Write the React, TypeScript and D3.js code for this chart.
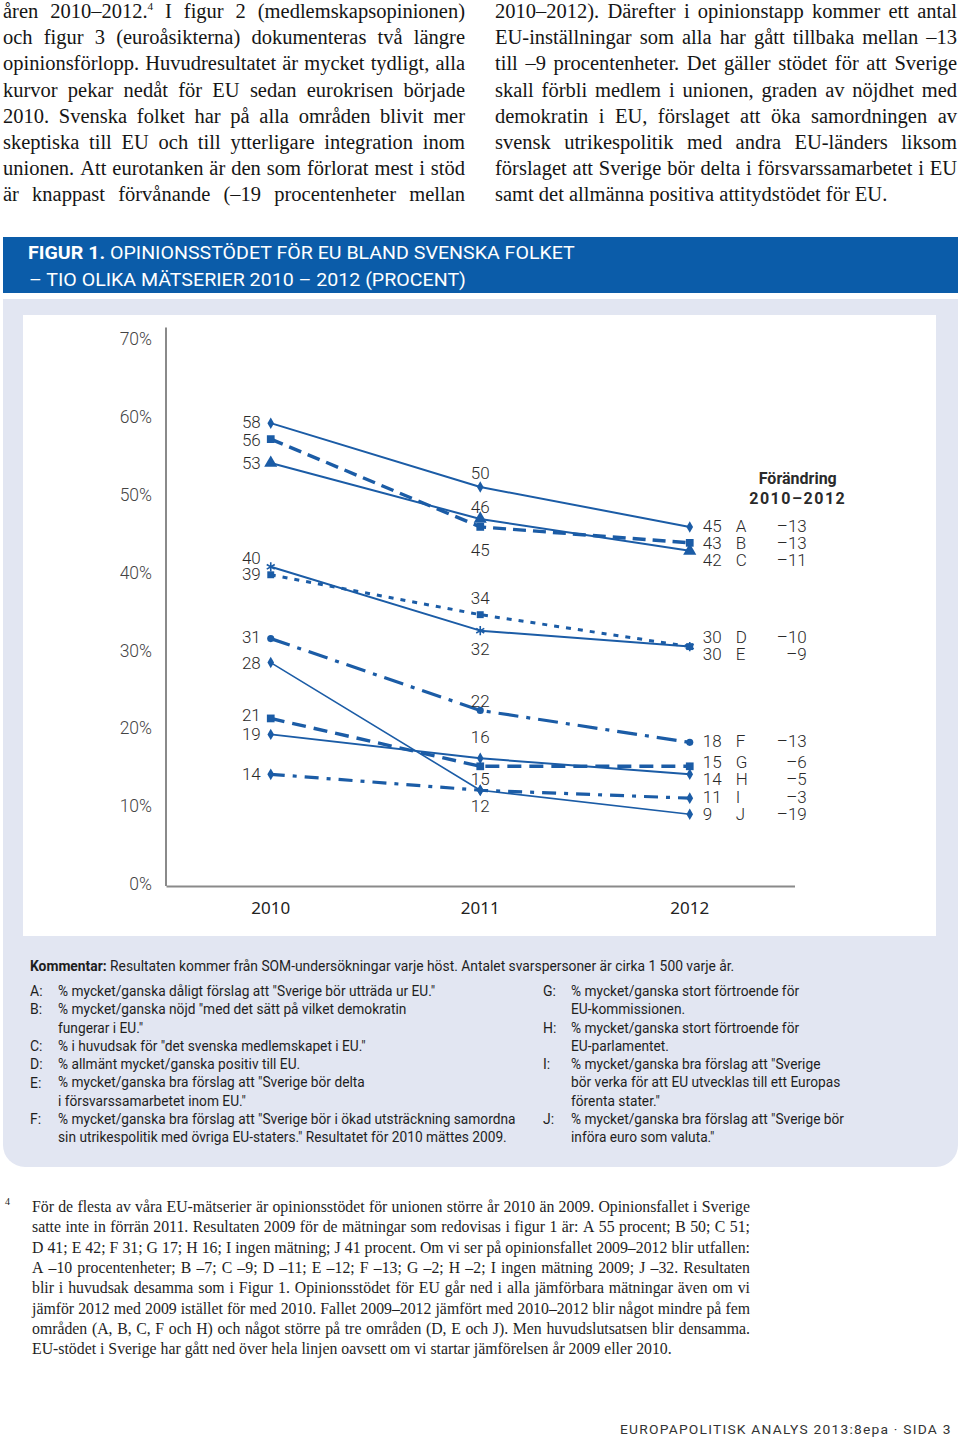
import React, { useEffect, useRef } from 'react';
import * as d3 from 'd3';

// ---------- DATA ----------
const years = ['2010', '2011', '2012'];
const seriesKeys = ['A', 'B', 'C', 'D', 'E', 'F', 'G', 'H', 'I', 'J'];
const valuesA = [58, 50, 45];
const valuesB = [56, 45, 43];
const valuesC = [53, 46, 42];
const valuesD = [40, 32, 30];
const valuesE = [39, 34, 30];
const valuesF = [31, 22, 18];
const valuesG = [21, 15, 15];
const valuesH = [19, 16, 14];
const valuesI = [14, 12, 11];
const valuesJ = [28, 12, 9];
const yTickValues = [0, 10, 20, 30, 40, 50, 60, 70];
const changeTitle = ['Förändring', '2010–2012'];

const seriesValues: Record<string, number[]> = {
  A: valuesA, B: valuesB, C: valuesC, D: valuesD, E: valuesE,
  F: valuesF, G: valuesG, H: valuesH, I: valuesI, J: valuesJ,
};

// ---------- STYLE / LAYOUT ----------
const BLUE = '#1b5ca6';
type St = { dash: string | null; width: number; marker: string; msize: number };
const styles: Record<string, St> = {
  A: { dash: null, width: 2, marker: 'diamond', msize: 38 },
  B: { dash: '13,7', width: 3.4, marker: 'square', msize: 60 },
  C: { dash: null, width: 2, marker: 'triangle', msize: 75 },
  D: { dash: null, width: 2, marker: 'asterisk', msize: 60 },
  E: { dash: '5,7', width: 3, marker: 'square', msize: 48 },
  F: { dash: '20,8,4,8', width: 3.2, marker: 'circle', msize: 40 },
  G: { dash: '14,8', width: 3.4, marker: 'square', msize: 60 },
  H: { dash: null, width: 2, marker: 'diamond', msize: 38 },
  I: { dash: '14,8,4,8', width: 3.2, marker: 'diamond', msize: 40 },
  J: { dash: null, width: 1.6, marker: 'diamond', msize: 38 },
};
// label vertical offsets from marker (px), null = no label
const labelDy2010: Record<string, number | null> = { A: -1, B: 1, C: 0, D: -9, E: -1, F: -2, G: -4, H: -1, I: 0, J: 0 };
const labelDy2011: Record<string, number | null> = { A: -14, B: 23, C: -12, D: 18, E: -17, F: -10, G: 13, H: -21, I: null, J: 16 };
const labelDy2012: Record<string, number | null> = { A: -1, B: 0, C: 9, D: -10, E: 7, F: -1, G: -4, H: 5, I: -1, J: 0 };

const bodyLeft = [
  'åren 2010–2012.^4 I figur 2 (medlemskapsopinionen)',
  'och figur 3 (euroåsikterna) dokumenteras två längre',
  'opinionsförlopp. Huvudresultatet är mycket tydligt, alla',
  'kurvor pekar nedåt för EU sedan eurokrisen började',
  '2010. Svenska folket har på alla områden blivit mer',
  'skeptiska till EU och till ytterligare integration inom',
  'unionen. Att eurotanken är den som förlorat mest i stöd',
  'är knappast förvånande (–19 procentenheter mellan',
];
const bodyRight = [
  '2010–2012). Därefter i opinionstapp kommer ett antal',
  'EU-inställningar som alla har gått tillbaka mellan –13',
  'till –9 procentenheter. Det gäller stödet för att Sverige',
  'skall förbli medlem i unionen, graden av nöjdhet med',
  'demokratin i EU, förslaget att öka samordningen av',
  'svensk utrikespolitik med andra EU-länders liksom',
  'förslaget att Sverige bör delta i försvarssamarbetet i EU',
  'samt det allmänna positiva attitydstödet för EU.',
];
const footnote = [
  'För de flesta av våra EU-mätserier är opinionsstödet för unionen större år 2010 än 2009. Opinionsfallet i Sverige',
  'satte inte in förrän 2011. Resultaten 2009 för de mätningar som redovisas i figur 1 är: A 55 procent; B 50; C 51;',
  'D 41; E 42; F 31; G 17; H 16; I ingen mätning; J 41 procent. Om vi ser på opinionsfallet 2009–2012 blir utfallen:',
  'A –10 procentenheter; B –7; C –9; D –11; E –12; F –13; G –2; H –2; I ingen mätning 2009; J –32. Resultaten',
  'blir i huvudsak desamma som i Figur 1. Opinionsstödet för EU går ned i alla jämförbara mätningar även om vi',
  'jämför 2012 med 2009 istället för med 2010. Fallet 2009–2012 jämfört med 2010–2012 blir något mindre på fem',
  'områden (A, B, C, F och H) och något större på tre områden (D, E och J). Men huvudslutsatsen blir densamma.',
  'EU-stödet i Sverige har gått ned över hela linjen oavsett om vi startar jämförelsen år 2009 eller 2010.',
];
const commentLeft: [string, string][] = [
  ['A:', '% mycket/ganska dåligt förslag att "Sverige bör utträda ur EU."'],
  ['B:', '% mycket/ganska nöjd "med det sätt på vilket demokratin'],
  ['', 'fungerar i EU."'],
  ['C:', '% i huvudsak för "det svenska medlemskapet i EU."'],
  ['D:', '% allmänt mycket/ganska positiv till EU.'],
  ['E:', '% mycket/ganska bra förslag att "Sverige bör delta'],
  ['', 'i försvarssamarbetet inom EU."'],
  ['F:', '% mycket/ganska bra förslag att "Sverige bör i ökad utsträckning samordna'],
  ['', 'sin utrikespolitik med övriga EU-staters." Resultatet för 2010 mättes 2009.'],
];
const commentRight: [string, string][] = [
  ['G:', '% mycket/ganska stort förtroende för'],
  ['', 'EU-kommissionen.'],
  ['H:', '% mycket/ganska stort förtroende för'],
  ['', 'EU-parlamentet.'],
  ['I:', '% mycket/ganska bra förslag att "Sverige'],
  ['', 'bör verka för att EU utvecklas till ett Europas'],
  ['', 'förenta stater."'],
  ['J:', '% mycket/ganska bra förslag att "Sverige bör'],
  ['', 'införa euro som valuta."'],
];

const SERIF = '"Liberation Serif", "Times New Roman", serif';
const SANS = 'Roboto, "Noto Sans", sans-serif';

function drawJustified(parent: any, lines: string[], o: { x: number; width: number; y0: number; lh: number; size: number; fill: string; lastJustify: boolean }) {
  lines.forEach((line, i) => {
    const y = o.y0 + i * o.lh;
    const justify = i < lines.length - 1 || o.lastJustify;
    const words = line.split(' ');
    const g = parent.append('g');
    const nodes = words.map((w) => {
      const t = g.append('text').attr('y', y).attr('font-family', SERIF).attr('font-size', o.size).attr('fill', o.fill);
      const m = w.match(/^(.*)\^(\w+)$/);
      if (m) {
        t.append('tspan').text(m[1]);
        t.append('tspan').attr('font-size', o.size * 0.55).attr('dy', -o.size * 0.4).text(m[2]);
      } else t.text(w);
      return t;
    });
    const widths = nodes.map((n: any) => n.node().getComputedTextLength());
    const sum = d3.sum(widths);
    const spaceW = o.size * 0.25;
    let gap = justify && words.length > 1 ? (o.width - sum) / (words.length - 1) : spaceW;
    let sx = 1;
    if (gap < spaceW * 0.6) {
      gap = spaceW * 0.6;
      sx = o.width / (sum + gap * (words.length - 1));
    }
    let cx = 0;
    nodes.forEach((n: any, k: number) => { n.attr('x', cx); cx += widths[k] + gap; });
    g.attr('transform', `translate(${o.x},0) scale(${sx},1)`);
  });
}

function fitGroup(g: any, x: number, target: number | null, factor?: number) {
  const w = g.node().getBBox().width;
  const f = target != null ? target / w : (factor ?? 1);
  g.attr('transform', `translate(${x},0) scale(${f},1)`);
  return f;
}

export default function App() {
  const ref = useRef<SVGSVGElement | null>(null);

  useEffect(() => {
    const svg = d3.select(ref.current);
    svg.selectAll('*').remove();

    // ---- body text ----
    const body = svg.append('g');
    drawJustified(body, bodyLeft, { x: 3, width: 462, y0: 18, lh: 26.2, size: 20.5, fill: '#151515', lastJustify: true });
    drawJustified(body, bodyRight, { x: 495, width: 462, y0: 18, lh: 26.2, size: 20.5, fill: '#151515', lastJustify: false });

    // ---- figure frame ----
    svg.append('rect').attr('x', 3).attr('y', 237).attr('width', 955).attr('height', 56).attr('fill', '#0b5ca9');
    svg.append('path')
      .attr('d', 'M3,299 H958 V1145 A22,22 0 0 1 936,1167 H25 A22,22 0 0 1 3,1145 Z')
      .attr('fill', '#e2e6f2');
    svg.append('rect').attr('x', 23).attr('y', 315).attr('width', 913).attr('height', 621).attr('fill', '#ffffff');

    // banner text
    const b1 = svg.append('g');
    const b1t = b1.append('text').attr('y', 259).attr('font-family', SANS).attr('font-size', 19).attr('fill', '#fff');
    b1t.append('tspan').attr('font-weight', 700).text('FIGUR 1.');
    b1t.append('tspan').attr('font-weight', 400).text(' OPINIONSSTÖDET FÖR EU BLAND SVENSKA FOLKET');
    const bf = fitGroup(b1, 28, 547);
    const b2 = svg.append('g');
    b2.append('text').attr('y', 286).attr('font-family', SANS).attr('font-size', 19).attr('fill', '#fff')
      .text('– TIO OLIKA MÄTSERIER 2010 – 2012 (PROCENT)');
    fitGroup(b2, 29, null, bf);

    // ---- chart ----
    const chart = svg.append('g');
    const x = d3.scaleBand<string>().domain(years).range([166, 794.5]);
    const cx = (yr: string) => (x(yr) as number) + x.bandwidth() / 2;
    const yData = d3.scaleLinear().domain([0, 70]).range([886, 886 - 70 * 7.98]);
    const yLab = d3.scaleLinear().domain([0, 70]).range([884, 339]);

    // y axis labels
    const ya = chart.append('g').attr('transform', 'translate(166,0)')
      .call(d3.axisLeft(yLab).tickValues(yTickValues).tickSize(0).tickPadding(14).tickFormat((d: any) => `${d}%`));
    ya.select('.domain').remove();
    ya.selectAll('text').attr('font-family', SANS).attr('font-size', 17.5).attr('font-weight', 300).attr('fill', '#444');
    ya.attr('font-family', null).attr('font-size', null);
    chart.append('line').attr('x1', 166).attr('x2', 166).attr('y1', yData(70)).attr('y2', 886)
      .attr('stroke', '#8a8a8a').attr('stroke-width', 2);

    // x axis
    const xa = chart.append('g').attr('transform', 'translate(0,886)')
      .call(d3.axisBottom(x).tickSize(0).tickSizeOuter(0).tickPadding(16));
    xa.select('.domain').attr('stroke', '#8a8a8a').attr('stroke-width', 2);
    xa.selectAll('text').attr('font-family', '"Noto Sans", "Open Sans", sans-serif').attr('font-size', 17).attr('fill', '#222');

    const line = d3.line<number>().x((_, i) => cx(years[i])).y((v) => yData(v));
    const symbolFor = (m: string) => {
      switch (m) {
        case 'square': return d3.symbolSquare;
        case 'triangle': return d3.symbolTriangle;
        case 'circle': return d3.symbolCircle;
        case 'asterisk': return d3.symbolAsterisk;
        default: return d3.symbolDiamond;
      }
    };

    seriesKeys.forEach((k) => {
      const st = styles[k];
      chart.append('path').attr('d', line(seriesValues[k]) as string).attr('fill', 'none')
        .attr('stroke', BLUE).attr('stroke-width', st.width)
        .attr('stroke-dasharray', st.dash)
        .attr('stroke-linecap', 'butt').attr('stroke-linejoin', 'round');
    });
    seriesKeys.forEach((k) => {
      const st = styles[k];
      seriesValues[k].forEach((v, i) => {
        const p = chart.append('path')
          .attr('transform', `translate(${cx(years[i])},${yData(v)})`)
          .attr('d', d3.symbol().type(symbolFor(st.marker)).size(st.msize)() as string);
        if (st.marker === 'asterisk') p.attr('fill', 'none').attr('stroke', BLUE).attr('stroke-width', 1.6);
        else p.attr('fill', BLUE);
      });
    });

    // labels
    const labelFont = (t: any) => t.attr('font-family', SANS).attr('font-size', 17).attr('font-weight', 300).attr('fill', '#2a2a2a').attr('dy', '0.36em');
    seriesKeys.forEach((k) => {
      const vals = seriesValues[k];
      const d0 = labelDy2010[k];
      if (d0 != null) labelFont(chart.append('text').attr('x', cx(years[0]) - 10).attr('y', yData(vals[0]) + d0).attr('text-anchor', 'end').text(vals[0]));
      const d1 = labelDy2011[k];
      if (d1 != null) labelFont(chart.append('text').attr('x', cx(years[1])).attr('y', yData(vals[1]) + d1).attr('text-anchor', 'middle').text(vals[1]));
      const d2 = labelDy2012[k];
      if (d2 != null) {
        const yy = yData(vals[2]) + d2;
        labelFont(chart.append('text').attr('x', cx(years[2]) + 13).attr('y', yy).text(vals[2]));
        labelFont(chart.append('text').attr('x', cx(years[2]) + 46).attr('y', yy).text(k));
        const ch = vals[2] - vals[0];
        labelFont(chart.append('text').attr('x', cx(years[2]) + 117).attr('y', yy).attr('text-anchor', 'end')
          .text((ch < 0 ? '–' : '+') + Math.abs(ch)));
      }
    });
    chart.append('text').attr('x', cx(years[2]) + 108).attr('y', 478).attr('dy', '0.36em').attr('text-anchor', 'middle')
      .attr('font-family', SANS).attr('font-size', 16).attr('font-weight', 700).attr('fill', '#2a2a2a').text(changeTitle[0]);
    chart.append('text').attr('x', cx(years[2]) + 108).attr('y', 498).attr('dy', '0.36em').attr('text-anchor', 'middle')
      .attr('font-family', SANS).attr('font-size', 16).attr('font-weight', 700).attr('letter-spacing', 1.5).attr('fill', '#2a2a2a').text(changeTitle[1]);

    // ---- comments ----
    const kg = svg.append('g');
    const kt = kg.append('text').attr('y', 971).attr('font-family', SANS).attr('font-size', 14).attr('fill', '#1e1e1e');
    kt.append('tspan').attr('font-weight', 700).text('Kommentar:');
    kt.append('tspan').text(' Resultaten kommer från SOM-undersökningar varje höst. Antalet svarspersoner är cirka 1 500 varje år.');
    fitGroup(kg, 30, 705);

    // factor from reference line
    const refG = svg.append('g');
    refG.append('text').attr('y', 0).attr('font-family', SANS).attr('font-size', 14).text(commentLeft[8][1]);
    const cf = 449 / refG.node()!.getBBox().width;
    refG.remove();

    const drawCol = (rows: [string, string][], xl: number, xt: number) => {
      rows.forEach(([lab, txt], i) => {
        const y = 996 + i * 18.3;
        if (lab) svg.append('text').attr('x', xl).attr('y', y).attr('font-family', SANS).attr('font-size', 14).attr('fill', '#1e1e1e').text(lab);
        const g = svg.append('g');
        g.append('text').attr('y', y).attr('font-family', SANS).attr('font-size', 14).attr('fill', '#1e1e1e').text(txt);
        fitGroup(g, xt, null, cf);
      });
    };
    drawCol(commentLeft, 30, 58);
    drawCol(commentRight, 543, 571);

    // ---- footnote ----
    svg.append('text').attr('x', 5).attr('y', 1205).attr('font-family', SERIF).attr('font-size', 10).attr('fill', '#222').text('4');
    drawJustified(svg, footnote, { x: 32, width: 718, y0: 1212, lh: 20.3, size: 15.8, fill: '#1e1e1e', lastJustify: false });

    // ---- page footer ----
    const fg = svg.append('g');
    fg.append('text').attr('y', 1434).attr('font-family', SANS).attr('font-size', 13.5).attr('letter-spacing', 1.2).attr('fill', '#333')
      .text('EUROPAPOLITISK ANALYS 2013:8epa · SIDA 3');
    fitGroup(fg, 620, 332);
  }, []);

  return (
    <svg ref={ref} width={960} height={1439} viewBox="0 0 960 1439"
      style={{ position: 'absolute', left: 0, top: 0, display: 'block', background: '#fff' }} />
  );
}
